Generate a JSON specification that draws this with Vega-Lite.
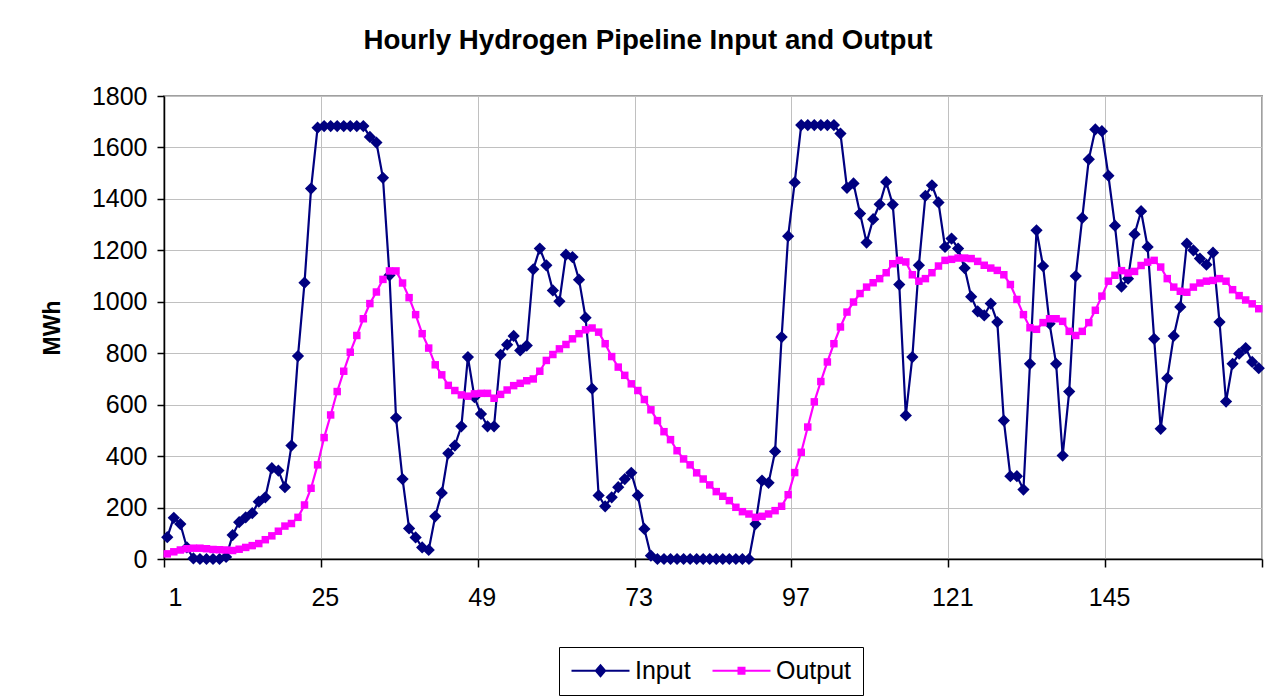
{
  "$schema": "https://vega.github.io/schema/vega-lite/v6.json",
  "autosize": "none",
  "width": 1098,
  "height": 463,
  "padding": {"left": 164, "top": 96, "right": 19, "bottom": 141},
  "background": "white",
  "title": {
    "text": "Hourly Hydrogen Pipeline Input and Output",
    "font": "Liberation Sans",
    "fontSize": 27.7,
    "fontWeight": "bold",
    "color": "black",
    "anchor": "middle",
    "frame": "group",
    "dx": -65,
    "baseline": "alphabetic",
    "offset": 7
  },
  "data": {
    "values": [
      {"h":1,"Input":85,"Output":20},{"h":2,"Input":160,"Output":28},{"h":3,"Input":136,"Output":35},{"h":4,"Input":45,"Output":40},
      {"h":5,"Input":2,"Output":42},{"h":6,"Input":0,"Output":42},{"h":7,"Input":0,"Output":40},{"h":8,"Input":0,"Output":37},
      {"h":9,"Input":0,"Output":36},{"h":10,"Input":8,"Output":35},{"h":11,"Input":93,"Output":33},{"h":12,"Input":143,"Output":38},
      {"h":13,"Input":162,"Output":45},{"h":14,"Input":178,"Output":52},{"h":15,"Input":223,"Output":60},{"h":16,"Input":240,"Output":75},
      {"h":17,"Input":353,"Output":90},{"h":18,"Input":344,"Output":108},{"h":19,"Input":279,"Output":128},{"h":20,"Input":441,"Output":138},
      {"h":21,"Input":789,"Output":162},{"h":22,"Input":1074,"Output":210},{"h":23,"Input":1440,"Output":275},{"h":24,"Input":1677,"Output":366},
      {"h":25,"Input":1683,"Output":472},{"h":26,"Input":1683,"Output":560},{"h":27,"Input":1683,"Output":651},{"h":28,"Input":1683,"Output":730},
      {"h":29,"Input":1683,"Output":804},{"h":30,"Input":1683,"Output":869},{"h":31,"Input":1683,"Output":934},{"h":32,"Input":1641,"Output":993},
      {"h":33,"Input":1619,"Output":1038},{"h":34,"Input":1482,"Output":1087},{"h":35,"Input":1103,"Output":1120},{"h":36,"Input":549,"Output":1120},
      {"h":37,"Input":311,"Output":1073},{"h":38,"Input":119,"Output":1016},{"h":39,"Input":84,"Output":950},{"h":40,"Input":45,"Output":876},
      {"h":41,"Input":35,"Output":820},{"h":42,"Input":166,"Output":755},{"h":43,"Input":257,"Output":716},{"h":44,"Input":411,"Output":675},
      {"h":45,"Input":441,"Output":655},{"h":46,"Input":516,"Output":638},{"h":47,"Input":785,"Output":633},{"h":48,"Input":629,"Output":642},
      {"h":49,"Input":564,"Output":644},{"h":50,"Input":516,"Output":644},{"h":51,"Input":516,"Output":625},{"h":52,"Input":794,"Output":640},
      {"h":53,"Input":833,"Output":657},{"h":54,"Input":867,"Output":674},{"h":55,"Input":811,"Output":683},{"h":56,"Input":830,"Output":693},
      {"h":57,"Input":1126,"Output":700},{"h":58,"Input":1207,"Output":730},{"h":59,"Input":1142,"Output":772},{"h":60,"Input":1044,"Output":795},
      {"h":61,"Input":1002,"Output":817},{"h":62,"Input":1183,"Output":834},{"h":63,"Input":1174,"Output":856},{"h":64,"Input":1086,"Output":876},
      {"h":65,"Input":938,"Output":891},{"h":66,"Input":662,"Output":898},{"h":67,"Input":247,"Output":882},{"h":68,"Input":205,"Output":837},
      {"h":69,"Input":240,"Output":787},{"h":70,"Input":279,"Output":746},{"h":71,"Input":311,"Output":714},{"h":72,"Input":335,"Output":681},
      {"h":73,"Input":247,"Output":655},{"h":74,"Input":117,"Output":620},{"h":75,"Input":13,"Output":580},{"h":76,"Input":0,"Output":538},
      {"h":77,"Input":0,"Output":495},{"h":78,"Input":0,"Output":464},{"h":79,"Input":0,"Output":421},{"h":80,"Input":0,"Output":389},
      {"h":81,"Input":0,"Output":366},{"h":82,"Input":0,"Output":335},{"h":83,"Input":0,"Output":311},{"h":84,"Input":0,"Output":288},
      {"h":85,"Input":0,"Output":262},{"h":86,"Input":0,"Output":244},{"h":87,"Input":0,"Output":227},{"h":88,"Input":0,"Output":201},
      {"h":89,"Input":0,"Output":184},{"h":90,"Input":0,"Output":175},{"h":91,"Input":136,"Output":162},{"h":92,"Input":305,"Output":166},
      {"h":93,"Input":296,"Output":175},{"h":94,"Input":418,"Output":188},{"h":95,"Input":863,"Output":205},{"h":96,"Input":1255,"Output":250},
      {"h":97,"Input":1464,"Output":336},{"h":98,"Input":1687,"Output":415},{"h":99,"Input":1687,"Output":513},{"h":100,"Input":1687,"Output":611},
      {"h":101,"Input":1687,"Output":690},{"h":102,"Input":1687,"Output":766},{"h":103,"Input":1687,"Output":837},{"h":104,"Input":1654,"Output":902},
      {"h":105,"Input":1443,"Output":960},{"h":106,"Input":1460,"Output":999},{"h":107,"Input":1343,"Output":1032},{"h":108,"Input":1230,"Output":1057},
      {"h":109,"Input":1321,"Output":1074},{"h":110,"Input":1379,"Output":1090},{"h":111,"Input":1466,"Output":1113},{"h":112,"Input":1378,"Output":1148},
      {"h":113,"Input":1067,"Output":1161},{"h":114,"Input":558,"Output":1155},{"h":115,"Input":785,"Output":1105},{"h":116,"Input":1142,"Output":1080},
      {"h":117,"Input":1412,"Output":1090},{"h":118,"Input":1453,"Output":1113},{"h":119,"Input":1386,"Output":1139},{"h":120,"Input":1213,"Output":1161},
      {"h":121,"Input":1246,"Output":1165},{"h":122,"Input":1207,"Output":1170},{"h":123,"Input":1131,"Output":1170},{"h":124,"Input":1020,"Output":1168},
      {"h":125,"Input":963,"Output":1157},{"h":126,"Input":947,"Output":1142},{"h":127,"Input":993,"Output":1131},{"h":128,"Input":921,"Output":1122},
      {"h":129,"Input":538,"Output":1105},{"h":130,"Input":322,"Output":1067},{"h":131,"Input":322,"Output":1009},{"h":132,"Input":270,"Output":950},
      {"h":133,"Input":759,"Output":899},{"h":134,"Input":1278,"Output":893},{"h":135,"Input":1139,"Output":919},{"h":136,"Input":915,"Output":934},
      {"h":137,"Input":759,"Output":934},{"h":138,"Input":402,"Output":924},{"h":139,"Input":651,"Output":885},{"h":140,"Input":1100,"Output":869},
      {"h":141,"Input":1326,"Output":885},{"h":142,"Input":1554,"Output":919},{"h":143,"Input":1670,"Output":967},{"h":144,"Input":1663,"Output":1022},
      {"h":145,"Input":1490,"Output":1080},{"h":146,"Input":1296,"Output":1103},{"h":147,"Input":1059,"Output":1121},{"h":148,"Input":1090,"Output":1112},
      {"h":149,"Input":1263,"Output":1118},{"h":150,"Input":1352,"Output":1141},{"h":151,"Input":1213,"Output":1154},{"h":152,"Input":856,"Output":1161},
      {"h":153,"Input":506,"Output":1135},{"h":154,"Input":703,"Output":1090},{"h":155,"Input":867,"Output":1057},{"h":156,"Input":980,"Output":1041},
      {"h":157,"Input":1226,"Output":1037},{"h":158,"Input":1200,"Output":1057},{"h":159,"Input":1168,"Output":1073},{"h":160,"Input":1144,"Output":1080},
      {"h":161,"Input":1191,"Output":1083},{"h":162,"Input":921,"Output":1090},{"h":163,"Input":612,"Output":1080},{"h":164,"Input":759,"Output":1047},
      {"h":165,"Input":798,"Output":1024},{"h":166,"Input":820,"Output":1007},{"h":167,"Input":766,"Output":992},{"h":168,"Input":742,"Output":973}
    ]
  },
  "transform": [{"fold": ["Input", "Output"], "as": ["series", "value"]}],
  "encoding": {
    "x": {
      "field": "h",
      "type": "quantitative",
      "scale": {"domain": [0.5, 168.5], "nice": false, "zero": false},
      "axis": {
        "title": null,
        "values": [0.5, 24.5, 48.5, 72.5, 96.5, 120.5, 144.5, 168.5],
        "labelExpr": "datum.value < 168 ? format(datum.value + 0.5, 'd') : ''",
        "labelOffset": 4,
        "labelPadding": 18,
        "labelFont": "Liberation Sans",
        "labelFontSize": 25,
        "labelColor": "black",
        "tickSize": 8,
        "tickColor": "black",
        "tickWidth": 1.5,
        "domainColor": "black",
        "domainWidth": 1.5,
        "grid": true,
        "gridColor": "#c0c0c0",
        "gridWidth": 1
      }
    },
    "y": {
      "field": "value",
      "type": "quantitative",
      "scale": {"domain": [0, 1800], "nice": false},
      "axis": {
        "title": "MWh",
        "titleFont": "Liberation Sans",
        "titleFontSize": 23,
        "titleFontWeight": "bold",
        "titleColor": "black",
        "titlePadding": 27,
        "values": [0, 200, 400, 600, 800, 1000, 1200, 1400, 1600, 1800],
        "format": "d",
        "labelFont": "Liberation Sans",
        "labelFontSize": 25,
        "labelColor": "black",
        "labelPadding": 10,
        "tickSize": 7,
        "tickColor": "black",
        "tickWidth": 1.5,
        "domainColor": "black",
        "domainWidth": 1.5,
        "grid": true,
        "gridColor": "#c0c0c0",
        "gridWidth": 1
      }
    }
  },
  "layer": [
    {
      "mark": {"type": "line", "strokeWidth": 2.2},
      "encoding": {
        "color": {"field": "series", "type": "nominal", "scale": {"range": ["#000080", "#FF00FF"]}, "legend": null}
      }
    },
    {
      "transform": [{"filter": "datum.series === 'Input'"}],
      "mark": {"type": "point", "shape": "diamond", "filled": true, "size": 150, "opacity": 1},
      "encoding": {
        "color": {"field": "series", "type": "nominal", "scale": {"range": ["#000080", "#FF00FF"]}, "legend": null}
      }
    },
    {
      "transform": [{"filter": "datum.series === 'Output'"}],
      "mark": {"type": "point", "shape": "square", "filled": true, "size": 56, "opacity": 1},
      "encoding": {
        "color": {"field": "series", "type": "nominal", "scale": {"range": ["#000080", "#FF00FF"]}, "legend": null}
      }
    },
    {
      "mark": {"type": "point", "filled": true, "opacity": 0},
      "encoding": {
        "fill": {
          "field": "series", "type": "nominal",
          "scale": {"domain": ["Input", "Output"], "range": ["#000080", "#FF00FF"]},
          "legend": {
            "title": null,
            "orient": "none",
            "legendX": 395,
            "legendY": 551,
            "direction": "horizontal",
            "strokeColor": "black",
            "fillColor": "white",
            "padding": 11,
            "symbolSize": 400,
            "symbolOffset": 18,
            "symbolOpacity": 1,
            "symbolStrokeWidth": 0,
            "labelOffset": 22,
            "columnPadding": 20,
            "labelFont": "Liberation Sans",
            "labelFontSize": 25,
            "labelColor": "black"
          }
        },
        "shape": {
          "field": "series", "type": "nominal",
          "scale": {
            "domain": ["Input", "Output"],
            "range": [
              "M-2.9,-0.1L2.9,-0.1L2.9,0.1L-2.9,0.1ZM0,-0.7L0.6,0L0,0.7L-0.6,0Z",
              "M-2.9,-0.1L2.9,-0.1L2.9,0.1L-2.9,0.1ZM-0.4,-0.4L0.4,-0.4L0.4,0.4L-0.4,0.4Z"
            ]
          },
          "legend": {
            "title": null,
            "orient": "none",
            "legendX": 395,
            "legendY": 551,
            "direction": "horizontal",
            "strokeColor": "black",
            "fillColor": "white",
            "padding": 11,
            "symbolSize": 400,
            "symbolOffset": 18,
            "symbolOpacity": 1,
            "symbolStrokeWidth": 0,
            "labelOffset": 22,
            "columnPadding": 20,
            "labelFont": "Liberation Sans",
            "labelFontSize": 25,
            "labelColor": "black"
          }
        }
      }
    }
  ],
  "config": {
    "view": {"stroke": "#a0a0a0", "strokeWidth": 2}
  }
}
